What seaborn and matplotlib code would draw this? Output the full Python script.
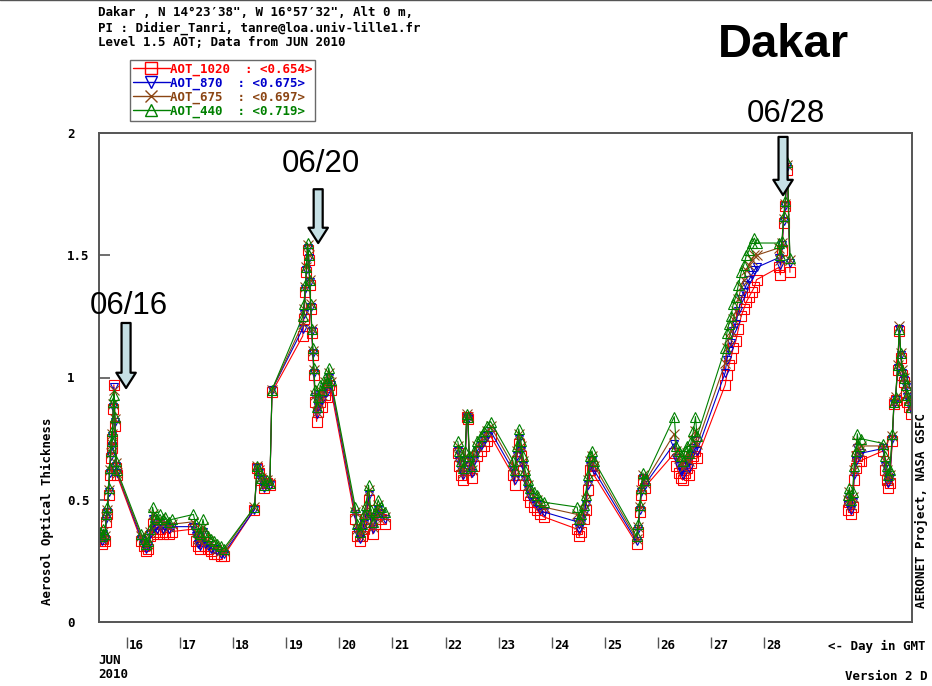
import numpy as np
import pandas as pd
import matplotlib
matplotlib.use("Agg")
import matplotlib.pyplot as plt
from matplotlib.lines import Line2D
from matplotlib import transforms
import seaborn as sns

# ---------------------------------------------------------------------------
# AERONET Dakar, Level 1.5 AOT, June 2010 (time = day of month, GMT)
# ---------------------------------------------------------------------------
day = [
    15.48, 15.52, 15.55, 15.58, 15.61, 15.63, 15.65, 15.67, 15.69, 15.71, 15.72, 15.74, 15.75, 15.77, 15.79, 15.81,
    16.27, 16.31, 16.35, 16.40, 16.44, 16.48, 16.52, 16.57, 16.62, 16.67, 16.72, 16.78, 16.85,
    17.25, 17.29, 17.33, 17.38, 17.43, 17.47, 17.52, 17.58, 17.64, 17.70, 17.76, 17.82,
    18.40, 18.45, 18.48, 18.52, 18.58, 18.64, 18.69, 18.73,
    19.31, 19.33, 19.36, 19.38, 19.40, 19.42, 19.44, 19.46, 19.48, 19.50, 19.52, 19.54, 19.57, 19.60, 19.64, 19.68, 19.72, 19.76, 19.80, 19.84,
    20.30, 20.34, 20.38, 20.42, 20.46, 20.50, 20.55, 20.59, 20.63, 20.68, 20.73, 20.78, 20.85,
    22.23, 22.26, 22.30, 22.33, 22.37, 22.40, 22.42, 22.45, 22.49, 22.54, 22.60, 22.66, 22.72, 22.78, 22.85,
    23.27, 23.30, 23.34, 23.38, 23.42, 23.46, 23.50, 23.55, 23.60, 23.66, 23.72, 23.78, 23.85,
    24.48, 24.52, 24.56, 24.60, 24.64, 24.68, 24.72, 24.76, 24.80,
    25.60, 25.63, 25.66, 25.69, 25.72, 25.75,
    26.31, 26.35, 26.39, 26.43, 26.47, 26.51, 26.55, 26.59, 26.63, 26.67, 26.71, 26.74,
    27.27, 27.30, 27.34, 27.38, 27.42, 27.47, 27.52, 27.57, 27.62, 27.67, 27.72, 27.77, 27.82, 27.86,
    28.28, 28.31, 28.34, 28.37, 28.40, 28.44, 28.49,
    29.58, 29.61, 29.64, 29.67, 29.70, 29.73, 29.76, 29.79, 29.82,
    30.25, 30.28, 30.31, 30.34, 30.37, 30.42, 30.45, 30.48, 30.52, 30.55, 30.58, 30.61, 30.64, 30.67, 30.70, 30.74, 30.78,
]

aot_1020 = [
    0.33, 0.32, 0.34, 0.33, 0.41, 0.44, 0.52, 0.60, 0.67, 0.75, 0.71, 0.87, 0.97, 0.80, 0.63, 0.60,
    0.33, 0.31, 0.29, 0.30, 0.35, 0.40, 0.37, 0.36, 0.38, 0.36, 0.37, 0.36, 0.37,
    0.38, 0.33, 0.31, 0.30, 0.35, 0.31, 0.30, 0.29, 0.28, 0.28, 0.27, 0.27,
    0.46, 0.63, 0.61, 0.58, 0.55, 0.57, 0.56, 0.94,
    1.17, 1.24, 1.35, 1.43, 1.52, 1.48, 1.38, 1.28, 1.18, 1.09, 1.01, 0.90, 0.82, 0.86, 0.90, 0.88, 0.93, 0.92, 0.97, 0.95,
    0.42, 0.35, 0.33, 0.35, 0.38, 0.42, 0.50, 0.41, 0.36, 0.40, 0.44, 0.42, 0.40,
    0.69, 0.64, 0.60, 0.58, 0.65, 0.84, 0.83, 0.62, 0.59, 0.64, 0.68, 0.70, 0.72, 0.74, 0.76,
    0.60, 0.56, 0.66, 0.73, 0.68, 0.62, 0.56, 0.52, 0.49, 0.47, 0.46, 0.44, 0.43,
    0.38, 0.35, 0.37, 0.42, 0.46, 0.54, 0.62, 0.64, 0.60,
    0.32, 0.37, 0.45, 0.52, 0.58, 0.55,
    0.69, 0.64, 0.61, 0.59, 0.58, 0.61, 0.63, 0.60, 0.65, 0.68, 0.70, 0.67,
    0.97, 1.01, 1.05, 1.08, 1.12, 1.15, 1.20, 1.25, 1.28, 1.31, 1.33, 1.35, 1.37, 1.40,
    1.45, 1.42, 1.52, 1.63, 1.70, 1.85, 1.43,
    0.46, 0.49, 0.44, 0.47, 0.58, 0.63, 0.68, 0.66, 0.66,
    0.70, 0.62, 0.58, 0.55, 0.57, 0.74, 0.89, 0.91, 1.03, 1.19, 1.08, 1.01, 0.98, 0.94, 0.90, 0.88, 0.85,
]

aot_870 = [
    0.35, 0.33, 0.36, 0.34, 0.42, 0.45, 0.53, 0.61, 0.68, 0.76, 0.72, 0.88, 0.96, 0.82, 0.64, 0.61,
    0.34, 0.32, 0.30, 0.31, 0.36, 0.42, 0.39, 0.38, 0.40, 0.38, 0.39, 0.38, 0.39,
    0.39, 0.35, 0.32, 0.31, 0.37, 0.32, 0.31, 0.30, 0.30, 0.29, 0.28, 0.28,
    0.46, 0.63, 0.61, 0.58, 0.55, 0.57, 0.56, 0.95,
    1.20, 1.26, 1.36, 1.44, 1.53, 1.49, 1.39, 1.29, 1.19, 1.10, 1.02, 0.92, 0.85, 0.88, 0.93, 0.91, 0.96, 0.94, 1.00, 0.97,
    0.44, 0.37, 0.34, 0.37, 0.40, 0.44, 0.52, 0.43, 0.38, 0.42, 0.46, 0.44, 0.42,
    0.70, 0.66, 0.62, 0.60, 0.66, 0.84, 0.83, 0.64, 0.61, 0.66, 0.70, 0.72, 0.74, 0.76, 0.78,
    0.62, 0.58, 0.68, 0.75, 0.70, 0.64, 0.58, 0.54, 0.51, 0.49, 0.48, 0.46, 0.45,
    0.41, 0.38, 0.40, 0.44, 0.48, 0.56, 0.64, 0.66, 0.62,
    0.33, 0.38, 0.46, 0.53, 0.59, 0.56,
    0.73, 0.67, 0.64, 0.62, 0.60, 0.64, 0.66, 0.63, 0.68, 0.71, 0.74, 0.70,
    1.02, 1.07, 1.11, 1.14, 1.19, 1.22, 1.27, 1.32, 1.35, 1.38, 1.40, 1.42, 1.44, 1.45,
    1.49, 1.46, 1.54, 1.64, 1.70, 1.86, 1.47,
    0.48, 0.51, 0.46, 0.49, 0.60, 0.66, 0.71, 0.68, 0.69,
    0.71, 0.64, 0.60, 0.57, 0.59, 0.75, 0.89, 0.91, 1.04, 1.20, 1.09, 1.02, 0.99, 0.96, 0.92, 0.90, 0.87,
]

aot_675 = [
    0.36, 0.34, 0.37, 0.35, 0.43, 0.46, 0.54, 0.62, 0.69, 0.77, 0.73, 0.89, 0.95, 0.83, 0.65, 0.61,
    0.35, 0.33, 0.31, 0.32, 0.37, 0.44, 0.41, 0.40, 0.42, 0.40, 0.41, 0.39, 0.40,
    0.41, 0.37, 0.34, 0.33, 0.39, 0.34, 0.33, 0.32, 0.31, 0.30, 0.29, 0.29,
    0.47, 0.64, 0.62, 0.59, 0.56, 0.58, 0.57, 0.95,
    1.22, 1.28, 1.37, 1.45, 1.54, 1.50, 1.40, 1.30, 1.20, 1.11, 1.03, 0.93, 0.86, 0.90, 0.95, 0.93, 0.98, 0.96, 1.02, 0.98,
    0.45, 0.38, 0.35, 0.38, 0.42, 0.46, 0.54, 0.44, 0.39, 0.43, 0.48, 0.45, 0.43,
    0.72, 0.68, 0.64, 0.61, 0.68, 0.85, 0.84, 0.66, 0.62, 0.68, 0.72, 0.74, 0.76, 0.78, 0.80,
    0.64, 0.60, 0.70, 0.77, 0.72, 0.66, 0.60, 0.56, 0.53, 0.51, 0.50, 0.48, 0.47,
    0.44, 0.40, 0.42, 0.46, 0.50, 0.58, 0.66, 0.68, 0.64,
    0.34, 0.39, 0.47, 0.54, 0.60, 0.57,
    0.77, 0.70, 0.67, 0.65, 0.63, 0.67, 0.69, 0.66, 0.71, 0.74, 0.78, 0.73,
    1.06, 1.12, 1.16, 1.19, 1.24, 1.27, 1.32, 1.37, 1.40, 1.44, 1.46, 1.48, 1.50, 1.50,
    1.53, 1.48, 1.55, 1.65, 1.71, 1.87, 1.48,
    0.50, 0.53, 0.48, 0.51, 0.62, 0.68, 0.74, 0.70, 0.72,
    0.72, 0.66, 0.62, 0.58, 0.60, 0.76, 0.90, 0.92, 1.05, 1.21, 1.10, 1.03, 1.00, 0.97, 0.93, 0.91, 0.88,
]

aot_440 = [
    0.37, 0.35, 0.38, 0.36, 0.44, 0.47, 0.55, 0.63, 0.70, 0.78, 0.74, 0.90, 0.93, 0.84, 0.66, 0.62,
    0.36, 0.34, 0.32, 0.33, 0.38, 0.47, 0.43, 0.42, 0.44, 0.42, 0.43, 0.41, 0.42,
    0.44, 0.40, 0.37, 0.36, 0.42, 0.37, 0.35, 0.34, 0.33, 0.32, 0.31, 0.30,
    0.47, 0.64, 0.62, 0.59, 0.56, 0.58, 0.57, 0.95,
    1.25, 1.30, 1.38, 1.45, 1.55, 1.50, 1.40, 1.30, 1.20, 1.12, 1.04, 0.95, 0.88, 0.92, 0.97, 0.95, 1.00, 0.98, 1.04, 0.99,
    0.47, 0.40, 0.37, 0.40, 0.44, 0.48, 0.56, 0.46, 0.41, 0.45, 0.50, 0.47, 0.45,
    0.74, 0.70, 0.66, 0.63, 0.70, 0.85, 0.84, 0.68, 0.64, 0.70, 0.74, 0.76, 0.78, 0.80, 0.82,
    0.66, 0.62, 0.72, 0.79, 0.74, 0.68, 0.62, 0.58, 0.55, 0.53, 0.52, 0.50, 0.49,
    0.47, 0.42, 0.44, 0.48, 0.52, 0.60, 0.68, 0.70, 0.66,
    0.35, 0.40, 0.48, 0.55, 0.61, 0.58,
    0.84, 0.72, 0.70, 0.68, 0.66, 0.70, 0.72, 0.69, 0.74, 0.78, 0.84, 0.76,
    1.12, 1.18, 1.22, 1.25, 1.30, 1.33, 1.38, 1.43, 1.46, 1.50, 1.52, 1.55, 1.57, 1.55,
    1.55, 1.50, 1.56, 1.66, 1.72, 1.88, 1.49,
    0.52, 0.55, 0.50, 0.53, 0.64, 0.70, 0.77, 0.72, 0.75,
    0.73, 0.68, 0.64, 0.60, 0.62, 0.77, 0.90, 0.92, 1.05, 1.20, 1.10, 1.03, 1.00, 0.97, 0.93, 0.91, 0.88,
]

bands = ["AOT_1020", "AOT_870", "AOT_675", "AOT_440"]
band_means = ["0.654", "0.675", "0.697", "0.719"]
day_ticks = [16, 17, 18, 19, 20, 21, 22, 23, 24, 25, 26, 27, 28]
aot_ticks = [0, 0.5, 1, 1.5, 2]
aot_tick_labels = ["0", "0.5", "1", "1.5", "2"]

# events marked with arrows: (label, arrow day, arrow tip, arrow tail, label y, label day)
events = [
    ("06/16", 15.98, 0.957, 1.223, 1.292, 16.03),
    ("06/20", 19.60, 1.550, 1.770, 1.873, 19.65),
    ("06/28", 28.36, 1.746, 1.984, 2.078, 28.41),
]

colors = {"AOT_1020": "#ff0000", "AOT_870": "#0000cc",
          "AOT_675": "#8b4513", "AOT_440": "#008000"}
markers = {"AOT_1020": "s", "AOT_870": "v", "AOT_675": "x", "AOT_440": "^"}
msizes = {"AOT_1020": 7.5, "AOT_870": 6.0, "AOT_675": 6.5, "AOT_440": 7.0}

# Long table; lines are broken wherever the record has a gap of more than a day
t = np.array(day)
run = np.concatenate([[0], np.cumsum(np.diff(t) > 0.9)])
frames = []
for name, vals in zip(bands, [aot_1020, aot_870, aot_675, aot_440]):
    frames.append(pd.DataFrame({"day": t, "aot": vals, "band": name, "run": run}))
df = pd.concat(frames, ignore_index=True)

sns.set_theme(style="white")
mono = ["DejaVu Sans Mono", "DejaVu Sans"]
plt.rcParams["font.family"] = mono
plt.rcParams["font.weight"] = "bold"
plt.rcParams["text.color"] = "black"
plt.rcParams["xtick.color"] = "black"
plt.rcParams["ytick.color"] = "black"

W, H = 932, 686
fig = plt.figure(figsize=(W / 100, H / 100), dpi=100)
fig.patch.set_facecolor("white")
ax = fig.add_axes([99 / W, 64 / H, 813 / W, 489 / H])

for name in bands:
    c = colors[name]
    sns.lineplot(data=df[df["band"] == name], x="day", y="aot", units="run",
                 estimator=None, sort=False, ax=ax, color=c, lw=0.8,
                 marker=markers[name], markersize=msizes[name],
                 mfc="none", mec=c, mew=0.8, legend=False)

ax.set_xlim(15.47, 30.79)
ax.set_ylim(0, 2)
ax.set_xlabel("")
ax.set_ylabel("")

for sp in ax.spines.values():
    sp.set_color("#555555")
    sp.set_linewidth(1.4)

# y axis: inward ticks, labels left-aligned well outside the frame
ax.set_yticks(aot_ticks)
ax.set_yticklabels(aot_tick_labels)
ax.tick_params(axis="y", direction="in", length=8, width=1.2, color="#555555",
               labelcolor="black", pad=23, labelsize=9, left=True)
for lab in ax.get_yticklabels():
    lab.set_horizontalalignment("left")
    lab.set_fontweight("bold")

# x axis: detached tick bars with day numbers just to the right
ax.set_xticks(day_ticks)
ax.set_xticklabels([str(d) for d in day_ticks])
ax.tick_params(axis="x", length=0, pad=12, labelsize=9, labelcolor="black", bottom=True)
shift = transforms.ScaledTranslation(1.5 / 72, 0, fig.dpi_scale_trans)
for lab in ax.get_xticklabels():
    lab.set_horizontalalignment("left")
    lab.set_fontweight("bold")
    lab.set_transform(lab.get_transform() + shift)
ax.vlines(day_ticks, -0.031, -0.054, transform=ax.get_xaxis_transform(),
          colors="#555555", lw=1.0, clip_on=False)

# event arrows and date labels
for label, xd, tip, tail, ly, lx in events:
    ax.annotate("", xy=(xd, tip), xytext=(xd, tail), annotation_clip=False,
                arrowprops=dict(arrowstyle="simple,head_length=11,head_width=14,tail_width=6.5",
                                mutation_scale=1, fc="#c6e0e5", ec="black", lw=1.6,
                                shrinkA=0, shrinkB=0))
    ax.text(lx, ly, label, fontsize=22.5, family="Liberation Sans", fontweight="normal",
            color="black", ha="center", va="center", clip_on=False)

# legend
handles = [Line2D([], [], color=colors[b], marker=markers[b], mfc="none", mec=colors[b],
                  ms=9, mew=1.0, lw=1.0) for b in bands]
labels = [f"{b:<8s}  : <{m}>" if b == "AOT_1020" else f"{b:<7s}  : <{m}>"
          for b, m in zip(bands, band_means)]
leg = fig.legend(handles, labels, loc="upper left", bbox_to_anchor=(130 / W, 1 - 60 / H),
                 bbox_transform=fig.transFigure, frameon=True, fancybox=False,
                 edgecolor="#444444", borderpad=0.2, borderaxespad=0, handlelength=3.0,
                 handletextpad=0.0, labelspacing=0.06, labelcolor="linecolor",
                 prop=dict(family="DejaVu Sans Mono", weight="bold", size=9))
leg.get_frame().set_linewidth(1.0)

# header, title and side texts
def ftext(x, y, s, **kw):
    kw.setdefault("fontsize", 9)
    kw.setdefault("fontweight", "bold")
    kw.setdefault("va", "center")
    kw.setdefault("color", "black")
    fig.text(x / W, 1 - y / H, s, **kw)

ftext(98, 13, "Dakar , N 14\u00b023\u203238\", W 16\u00b057\u203232\", Alt 0 m,")
ftext(98, 28, "PI : Didier_Tanri, tanre@loa.univ-lille1.fr")
ftext(98, 43, "Level 1.5 AOT; Data from JUN 2010")
ftext(783, 45, "Dakar", fontsize=34, family="Liberation Sans", ha="center")
ftext(47, 511, "Aerosol Optical Thickness", rotation=90, ha="center")
ftext(921, 511, "AERONET Project, NASA GSFC", rotation=90, ha="center")
ftext(98, 660, "JUN")
ftext(98, 675, "2010")
ftext(828, 646, "<- Day in GMT")
ftext(845, 676, "Version 2 D")

fig.add_artist(Line2D([0, 1], [0.9995, 0.9995], transform=fig.transFigure,
                      color="#555555", lw=1.0))

fig.savefig("out.png", dpi=100, facecolor="white")
